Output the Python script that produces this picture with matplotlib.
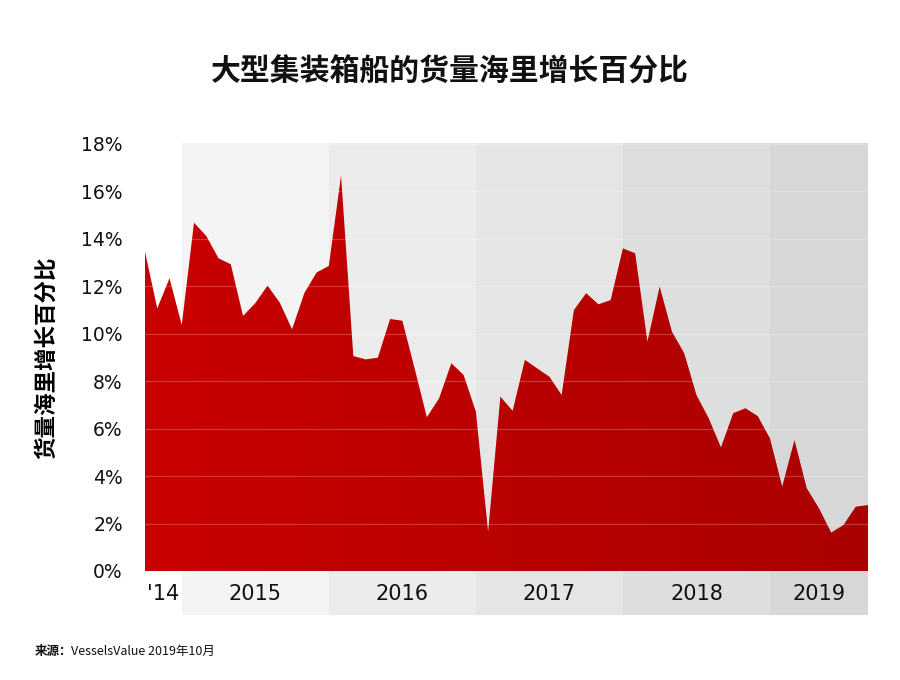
import numpy as np
import matplotlib
matplotlib.use("Agg")
import matplotlib.pyplot as plt
from matplotlib.colors import LinearSegmentedColormap

plt.rcParams['font.family'] = ['Noto Sans CJK SC', 'DejaVu Sans']

# 月度货量海里增长（%），2014年10月 - 2019年9月
growth = [13.46, 11.07, 12.34, 10.37, 14.68, 14.12, 13.18, 12.93, 10.75, 11.29,
          12.03, 11.31, 10.19, 11.71, 12.58, 12.86, 16.67, 9.06, 8.92, 8.99,
          10.62, 10.55, 8.54, 6.48, 7.28, 8.76, 8.26, 6.72, 1.66, 7.35,
          6.75, 8.90, 8.54, 8.19, 7.42, 11.00, 11.71, 11.24, 11.42, 13.60,
          13.39, 9.67, 11.99, 10.09, 9.18, 7.42, 6.44, 5.21, 6.65, 6.86,
          6.53, 5.59, 3.56, 5.52, 3.49, 2.64, 1.62, 1.94, 2.71, 2.78]

year_labels = ["'14", "2015", "2016", "2017", "2018", "2019"]
year_starts = [0, 3, 15, 27, 39, 51]
year_ends = [3, 15, 27, 39, 51, 59]
band_colors = ['#ffffff', '#f4f4f4', '#ececec', '#e5e5e5', '#dedede', '#d7d7d7']
y_ticks = [0, 2, 4, 6, 8, 10, 12, 14, 16, 18]

fig = plt.figure(figsize=(9, 6.8), dpi=100)
ax = fig.add_axes([145 / 900, 1 - 615 / 680, 723 / 900, 472 / 680])

x = np.arange(len(growth))
ymin, ymax = -1.855, 18.04
ax.set_xlim(0, len(growth) - 1)
ax.set_ylim(ymin, ymax)

# 年份背景色块
for s, e, c, lab in zip(year_starts, year_ends, band_colors, year_labels):
    ax.axvspan(s, e, color=c, zorder=0, lw=0)
    ax.text((s + e) / 2, -0.95, lab, ha='center', va='center', fontsize=15,
            family='DejaVu Sans', color='#111111', zorder=5)

# 渐变红色面积
poly = ax.fill_between(x, 0, growth, color='none', lw=0, zorder=2)
cmap = LinearSegmentedColormap.from_list('red', ['#c90000', '#ab0000'])
grad = np.linspace(0, 1, 256).reshape(1, -1)
img = ax.imshow(grad, cmap=cmap, aspect='auto', extent=[0, len(growth) - 1, 0, 18],
                origin='lower', zorder=2)
path = poly.get_paths()[0]
img.set_clip_path(path, transform=ax.transData)

for yv in y_ticks[1:]:
    ax.axhline(yv, color='white', alpha=0.22, lw=0.9, zorder=3)

ax.set_yticks(y_ticks)
ax.set_yticklabels([f'{v}%' for v in y_ticks], fontsize=13.5, family='DejaVu Sans',
                   color='#111111')
ax.tick_params(axis='y', length=0, pad=16)
ax.set_xticks([])
for sp in ax.spines.values():
    sp.set_visible(False)

ax.set_ylabel('货量海里增长百分比', fontsize=16.2, fontweight='bold')
ax.yaxis.set_label_coords(-0.12, 0.545)

fig.text(0.5, 1 - 72 / 680, '大型集装箱船的货量海里增长百分比', ha='center', va='center',
         fontsize=21.5, fontweight='bold', color='#111111')
fig.text(35 / 900, 1 - 651 / 680, '来源：', ha='left', va='center', fontsize=9,
         fontweight='bold', color='#111111')
fig.text(71 / 900, 1 - 651 / 680, 'VesselsValue 2019年10月', ha='left', va='center',
         fontsize=9, color='#111111')

fig.savefig('out.png', dpi=100)
